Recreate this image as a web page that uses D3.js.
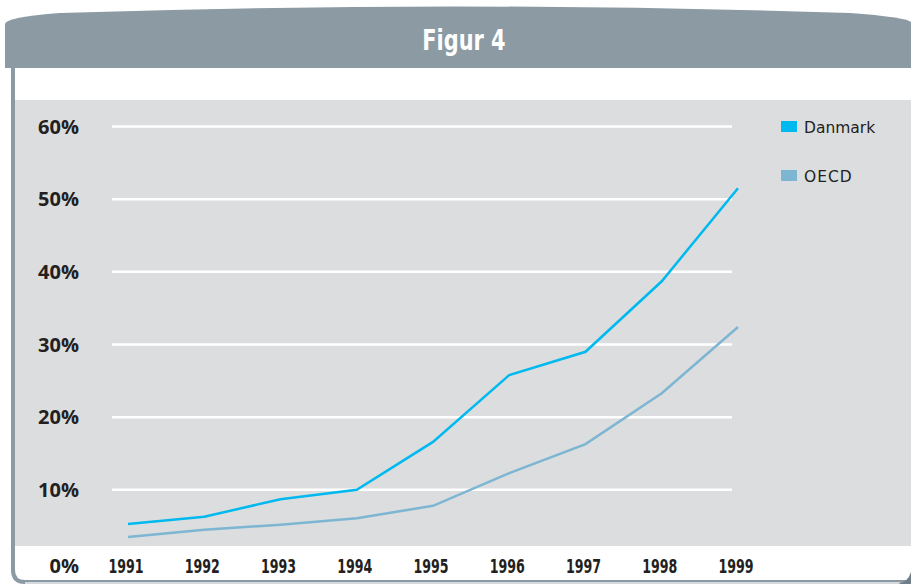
<!DOCTYPE html>
<html>
<head>
<meta charset="utf-8">
<script src="https://cdn.jsdelivr.net/npm/d3@7"></script>
<style>
  body { margin: 0; background: #fff; }
  svg { display: block; }
</style>
</head>
<body>
<div id="chart"></div>
<script>
var years = ["1991", "1992", "1993", "1994", "1995", "1996", "1997", "1998", "1999"];
var danmark = [5.3, 6.3, 8.7, 10.0, 16.6, 25.8, 29.0, 38.7, 51.5];
var oecd = [3.5, 4.5, 5.2, 6.1, 7.8, 12.3, 16.3, 23.3, 32.4];
var yTicks = [0, 10, 20, 30, 40, 50, 60];
var seriesNames = ["Danmark", "OECD"];
var seriesColors = ["#00b9ef", "#7db6d2"];

var width = 911,
  height = 584;

var condensed = "'DejaVu Sans Condensed', 'DejaVu Sans', sans-serif";

var svg = d3
  .select("#chart")
  .append("svg")
  .attr("width", width)
  .attr("height", height);

//frame: left border and rounded bottom
svg
  .append("path")
  .attr("d", "M13,68 L13,570 Q13,582 25,582 L911,582")
  .attr("fill", "none")
  .attr("stroke", "#8b9aa3")
  .attr("stroke-width", 4);
svg
  .append("line")
  .attr("x1", 25).attr("x2", 900)
  .attr("y1", 583).attr("y2", 583)
  .attr("stroke", "#d6d9dc")
  .attr("stroke-width", 2);
svg
  .append("path")
  .attr("d", "M898,584 Q908,582 911,572 L911,584 Z")
  .attr("fill", "#6f7e88");

//header band with curved top
svg
  .append("path")
  .attr("d", "M5,68 L5,24 Q6,17 60,13 Q455,0 850,13 Q905,17 911,22 L911,68 Z")
  .attr("fill", "#8b9aa3");

svg
  .append("text")
  .attr("transform", "translate(464,50) scale(0.8,1)")
  .attr("text-anchor", "middle")
  .attr("fill", "#fff")
  .style("font-family", condensed)
  .style("font-weight", "bold")
  .style("font-size", "29px")
  .text("Figur 4");

//grey plot background
svg
  .append("rect")
  .attr("x", 15)
  .attr("y", 100)
  .attr("width", width - 15)
  .attr("height", 446)
  .attr("fill", "#dcdddf");

var x = d3.scalePoint().domain(years).range([128, 738]);
var y = d3.scaleLinear().domain([0, 60]).range([562.5, 126.5]);

//gridlines
svg
  .selectAll(".grid")
  .data(yTicks.filter(function(d) { return d > 0; }))
  .enter()
  .append("line")
  .attr("class", "grid")
  .attr("x1", 112)
  .attr("x2", 732)
  .attr("y1", function(d) { return y(d); })
  .attr("y2", function(d) { return y(d); })
  .attr("stroke", "#fff")
  .attr("stroke-width", 2.5);

//y labels (0% sits a little lower, beside the year labels)
svg
  .selectAll(".ylab")
  .data(yTicks)
  .enter()
  .append("text")
  .attr("class", "ylab")
  .attr("x", 79)
  .attr("y", function(d) { return y(d) + (d == 0 ? 10 : 7); })
  .attr("text-anchor", "end")
  .attr("fill", "#231f20")
  .style("font-family", "'Open Sans', sans-serif")
  .style("font-weight", "bold")
  .style("font-size", "20px")
  .text(function(d) { return d + "%"; });

//x labels
svg
  .selectAll(".xlab")
  .data(years)
  .enter()
  .append("text")
  .attr("class", "xlab")
  .attr("transform", function(d) { return "translate(" + (x(d) - 2) + ",573) scale(0.74,1)"; })
  .attr("text-anchor", "middle")
  .attr("fill", "#231f20")
  .style("font-family", condensed)
  .style("font-weight", "bold")
  .style("font-size", "19px")
  .text(function(d) { return d; });

//lines
var line = d3
  .line()
  .x(function(d, i) { return x(years[i]); })
  .y(function(d) { return y(d); });

[danmark, oecd].forEach(function(vals, i) {
  svg
    .append("path")
    .attr("d", line(vals))
    .attr("fill", "none")
    .attr("stroke", seriesColors[i])
    .attr("stroke-width", 2.5);
});

//legend
var legend = svg
  .selectAll(".legend")
  .data(seriesNames)
  .enter()
  .append("g")
  .attr("class", "legend")
  .attr("transform", function(d, i) { return "translate(781," + (121 + i * 49) + ")"; });

legend
  .append("rect")
  .attr("width", 16)
  .attr("height", 11)
  .attr("fill", function(d, i) { return seriesColors[i]; });

legend
  .append("text")
  .attr("x", 23)
  .attr("y", 12)
  .attr("fill", "#231f20")
  .style("font-family", "'DejaVu Sans', sans-serif")
  .style("font-size", "15.5px")
  .style("letter-spacing", function(d, i) { return i == 1 ? "1px" : "0px"; })
  .text(function(d) { return d; });
</script>
</body>
</html>
